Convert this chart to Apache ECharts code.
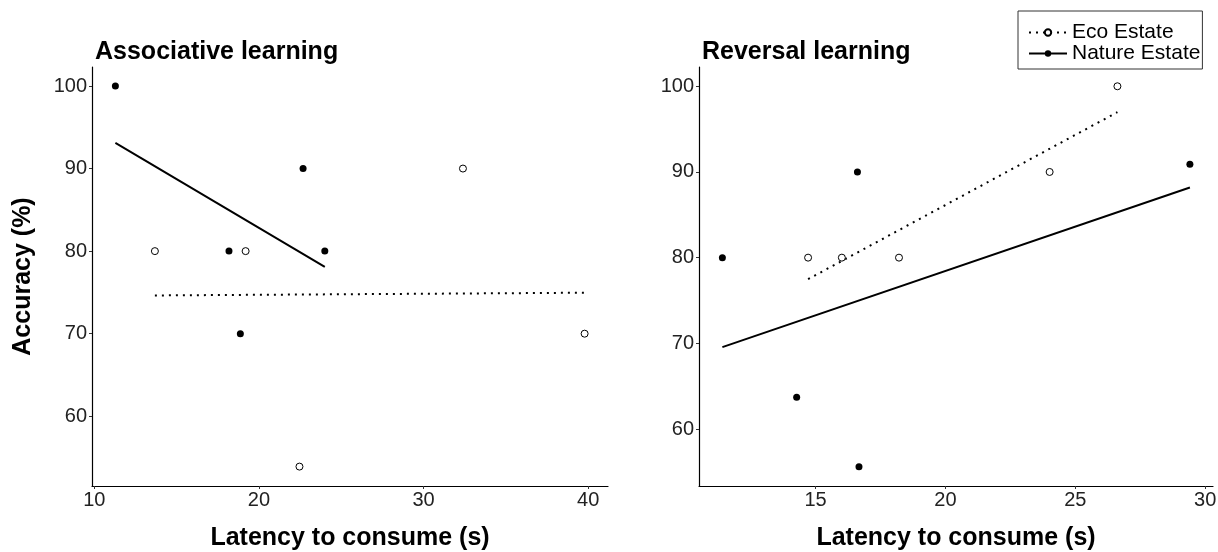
<!DOCTYPE html>
<html>
<head>
<meta charset="utf-8">
<script src="https://cdn.jsdelivr.net/npm/echarts@6/dist/echarts.min.js"></script>
<style>
  html, body { margin: 0; padding: 0; background: #fff; }
  #chart { width: 1218px; height: 552px; }
</style>
</head>
<body>
<div id="chart"></div>
<script>
// ---- Data ----
const panelTitles = ['Associative learning', 'Reversal learning'];
const groupNames = ['Eco Estate', 'Nature Estate'];
const xAxisTitle = 'Latency to consume (s)';
const yAxisTitle = 'Accuracy (%)';

// Associative learning
const ecoAssocX = [13.68, 19.19, 32.39, 39.78, 22.46];
const ecoAssocY = [80, 80, 90, 70, 53.9];
const natAssocX = [11.28, 18.18, 22.68, 24.0, 18.87];
const natAssocY = [100, 80, 90, 80, 70];
const ecoAssocFitX = [13.68, 39.78];
const ecoAssocFitY = [74.63, 74.96];
const natAssocFitX = [11.28, 24.0];
const natAssocFitY = [93.1, 78.1];

// Reversal learning
const ecoRevX = [14.71, 16.01, 18.21, 24.01, 26.62];
const ecoRevY = [80, 80, 80, 90, 100];
const natRevX = [11.41, 16.61, 29.41, 14.27, 16.67];
const natRevY = [80, 90, 90.9, 63.7, 55.6];
const ecoRevFitX = [14.71, 26.62];
const ecoRevFitY = [77.49, 96.98];
const natRevFitX = [11.41, 29.41];
const natRevFitY = [69.56, 88.18];

// Tick labels
const assocXTicks = [10, 20, 30, 40];
const revXTicks = [15, 20, 25, 30];
const yTicks = [60, 70, 80, 90, 100];

// ---- Build ----
const zip = (xs, ys) => xs.map((x, i) => [x, ys[i]]);
const FONT = 'Liberation Sans, Arial, sans-serif';
const BOLD = { fontSize: 25, fontWeight: 'bold', color: '#000', fontFamily: FONT };

function xAxisFor(gridIndex, min, max, ticks) {
  return {
    type: 'value', gridIndex, min, max,
    name: xAxisTitle, nameLocation: 'middle', nameGap: 40,
    nameTextStyle: BOLD,
    axisLine: { show: true, onZero: false, lineStyle: { color: '#000', width: 1.2 } },
    axisTick: { show: true, length: 3, customValues: ticks, lineStyle: { color: '#333' } },
    axisLabel: { customValues: ticks, fontSize: 20, color: '#222', fontFamily: FONT, margin: 4 },
    splitLine: { show: false }
  };
}
function yAxisFor(gridIndex, min, max, withName) {
  return {
    type: 'value', gridIndex, min, max,
    name: withName ? yAxisTitle : '', nameLocation: 'middle', nameGap: 56,
    nameTextStyle: BOLD,
    axisLine: { show: true, onZero: false, lineStyle: { color: '#000', width: 1.2 } },
    axisTick: { show: true, length: 3, customValues: yTicks, lineStyle: { color: '#333' } },
    axisLabel: { customValues: yTicks, fontSize: 20, color: '#222', fontFamily: FONT, margin: 5 },
    splitLine: { show: false }
  };
}

const ecoItem = { color: '#fff', borderColor: '#000', borderWidth: 1, opacity: 1 };
const natItem = { color: '#000', borderColor: '#000', borderWidth: 0, opacity: 1 };
const dotted = { type: [2, 5], width: 2, color: '#000', cap: 'butt' };
const solid = { type: 'solid', width: 2, color: '#000' };

function fitSeries(name, gi, xs, ys, ls, item) {
  return {
    type: 'line', name, xAxisIndex: gi, yAxisIndex: gi,
    data: zip(xs, ys), lineStyle: ls, itemStyle: item,
    symbol: 'circle', symbolSize: 6, showSymbol: false, z: 2, silent: true
  };
}
function ptSeries(name, gi, xs, ys, item) {
  return {
    type: 'scatter', name, xAxisIndex: gi, yAxisIndex: gi,
    data: zip(xs, ys), symbol: 'circle', symbolSize: 7, itemStyle: item, z: 3
  };
}

const option = {
  animation: false,
  backgroundColor: '#fff',
  title: [
    { text: panelTitles[0], left: 90, top: 35, textStyle: BOLD },
    { text: panelTitles[1], left: 697, top: 35, textStyle: BOLD }
  ],
  legend: {
    data: groupNames, orient: 'vertical', left: 1018, top: 11,
    itemWidth: 38, itemHeight: 8, itemGap: 0,
    padding: [11, 2, 5, 10],
    borderColor: '#333', borderWidth: 1,
    selectedMode: false,
    textStyle: { fontSize: 21, color: '#000', fontFamily: FONT, lineHeight: 19 }
  },
  grid: [
    { left: 92, top: 67, width: 516, height: 419, outerBoundsMode: 'none', containLabel: false },
    { left: 699, top: 67, width: 514, height: 419, outerBoundsMode: 'none', containLabel: false }
  ],
  xAxis: [ xAxisFor(0, 9.86, 41.2, assocXTicks), xAxisFor(1, 10.51, 30.3, revXTicks) ],
  yAxis: [ yAxisFor(0, 51.55, 102.3, true), yAxisFor(1, 53.35, 102.25, false) ],
  series: [
    fitSeries(groupNames[0], 0, ecoAssocFitX, ecoAssocFitY, dotted, ecoItem),
    fitSeries(groupNames[1], 0, natAssocFitX, natAssocFitY, solid, natItem),
    ptSeries(groupNames[0], 0, ecoAssocX, ecoAssocY, ecoItem),
    ptSeries(groupNames[1], 0, natAssocX, natAssocY, natItem),
    fitSeries(groupNames[0], 1, ecoRevFitX, ecoRevFitY, dotted, ecoItem),
    fitSeries(groupNames[1], 1, natRevFitX, natRevFitY, solid, natItem),
    ptSeries(groupNames[0], 1, ecoRevX, ecoRevY, ecoItem),
    ptSeries(groupNames[1], 1, natRevX, natRevY, natItem)
  ]
};

const chart = echarts.init(document.getElementById('chart'), null, { renderer: 'canvas' });
chart.setOption(option);
</script>
</body>
</html>
